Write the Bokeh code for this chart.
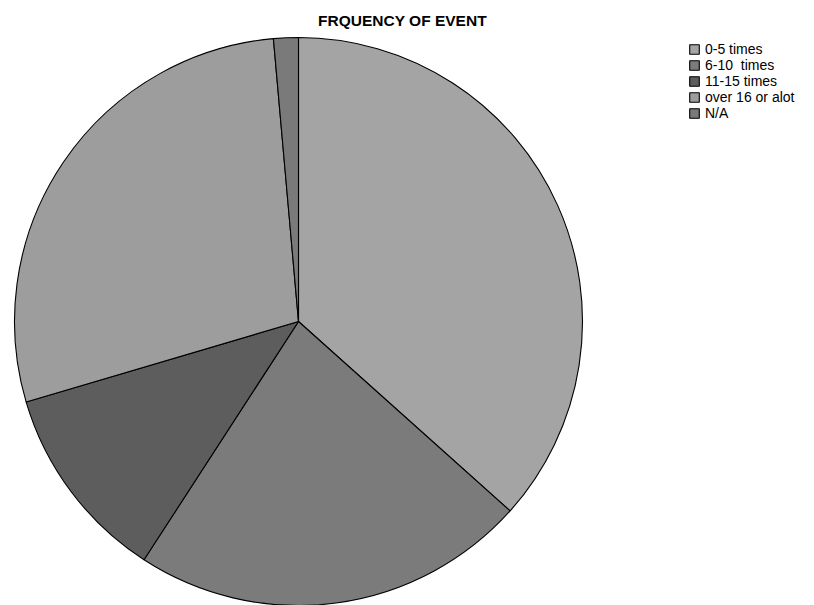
import math

from bokeh.embed import file_html
from bokeh.models import ColumnDataSource, Label, Legend, LegendItem, Range1d
from bokeh.plotting import figure
from bokeh.resources import INLINE

# Responses per frequency band
categories = ["0-5 times", "6-10  times", "11-15 times", "over 16 or alot", "N/A"]
counts = [26, 16, 8, 20, 1]
colors = ["#a4a4a4", "#7b7b7b", "#5d5d5d", "#9d9d9d", "#7a7a7a"]
title_text = "FRQUENCY OF EVENT"

W, H = 814, 605

# Slices run clockwise starting at 12 o'clock
total = sum(counts)
starts, ends = [], []
acc = 0
for c in counts:
    starts.append(math.pi / 2 - 2 * math.pi * acc / total)
    acc += c
    ends.append(math.pi / 2 - 2 * math.pi * acc / total)

source = ColumnDataSource(dict(
    category=categories,
    count=counts,
    color=colors,
    start=starts,
    end=ends,
))

p = figure(
    width=W, height=H,
    x_range=Range1d(0, W), y_range=Range1d(0, H),
    output_backend="svg", toolbar_location=None,
    x_axis_location=None, y_axis_location=None,
    min_border=0,
)
p.grid.visible = False
p.outline_line_color = None
p.background_fill_color = "white"
p.border_fill_color = "white"

cx, cy, r = 298, H - 321, 284
wedges = p.wedge(
    x=cx, y=cy, radius=r,
    start_angle="start", end_angle="end", direction="clock",
    fill_color="color", line_color="black", line_width=1.1,
    source=source,
)

items = [LegendItem(label=cat, renderers=[wedges], index=i) for i, cat in enumerate(categories)]
legend = Legend(
    items=items,
    location=(688, H - 37 - 84),
    glyph_width=12, glyph_height=12,
    label_height=16, label_standoff=5,
    spacing=0, padding=2, margin=0,
    label_text_font="Liberation Sans", label_text_font_size="14px",
    label_text_color="black",
    border_line_color=None, background_fill_alpha=0,
)
p.add_layout(legend)

p.add_layout(Label(
    x=402, y=H - 20, text=title_text,
    text_align="center", text_baseline="middle",
    text_font="Liberation Sans", text_font_size="15.5px", text_font_style="bold",
    text_color="black",
))

open("out.html", "w").write(file_html(p, INLINE))
